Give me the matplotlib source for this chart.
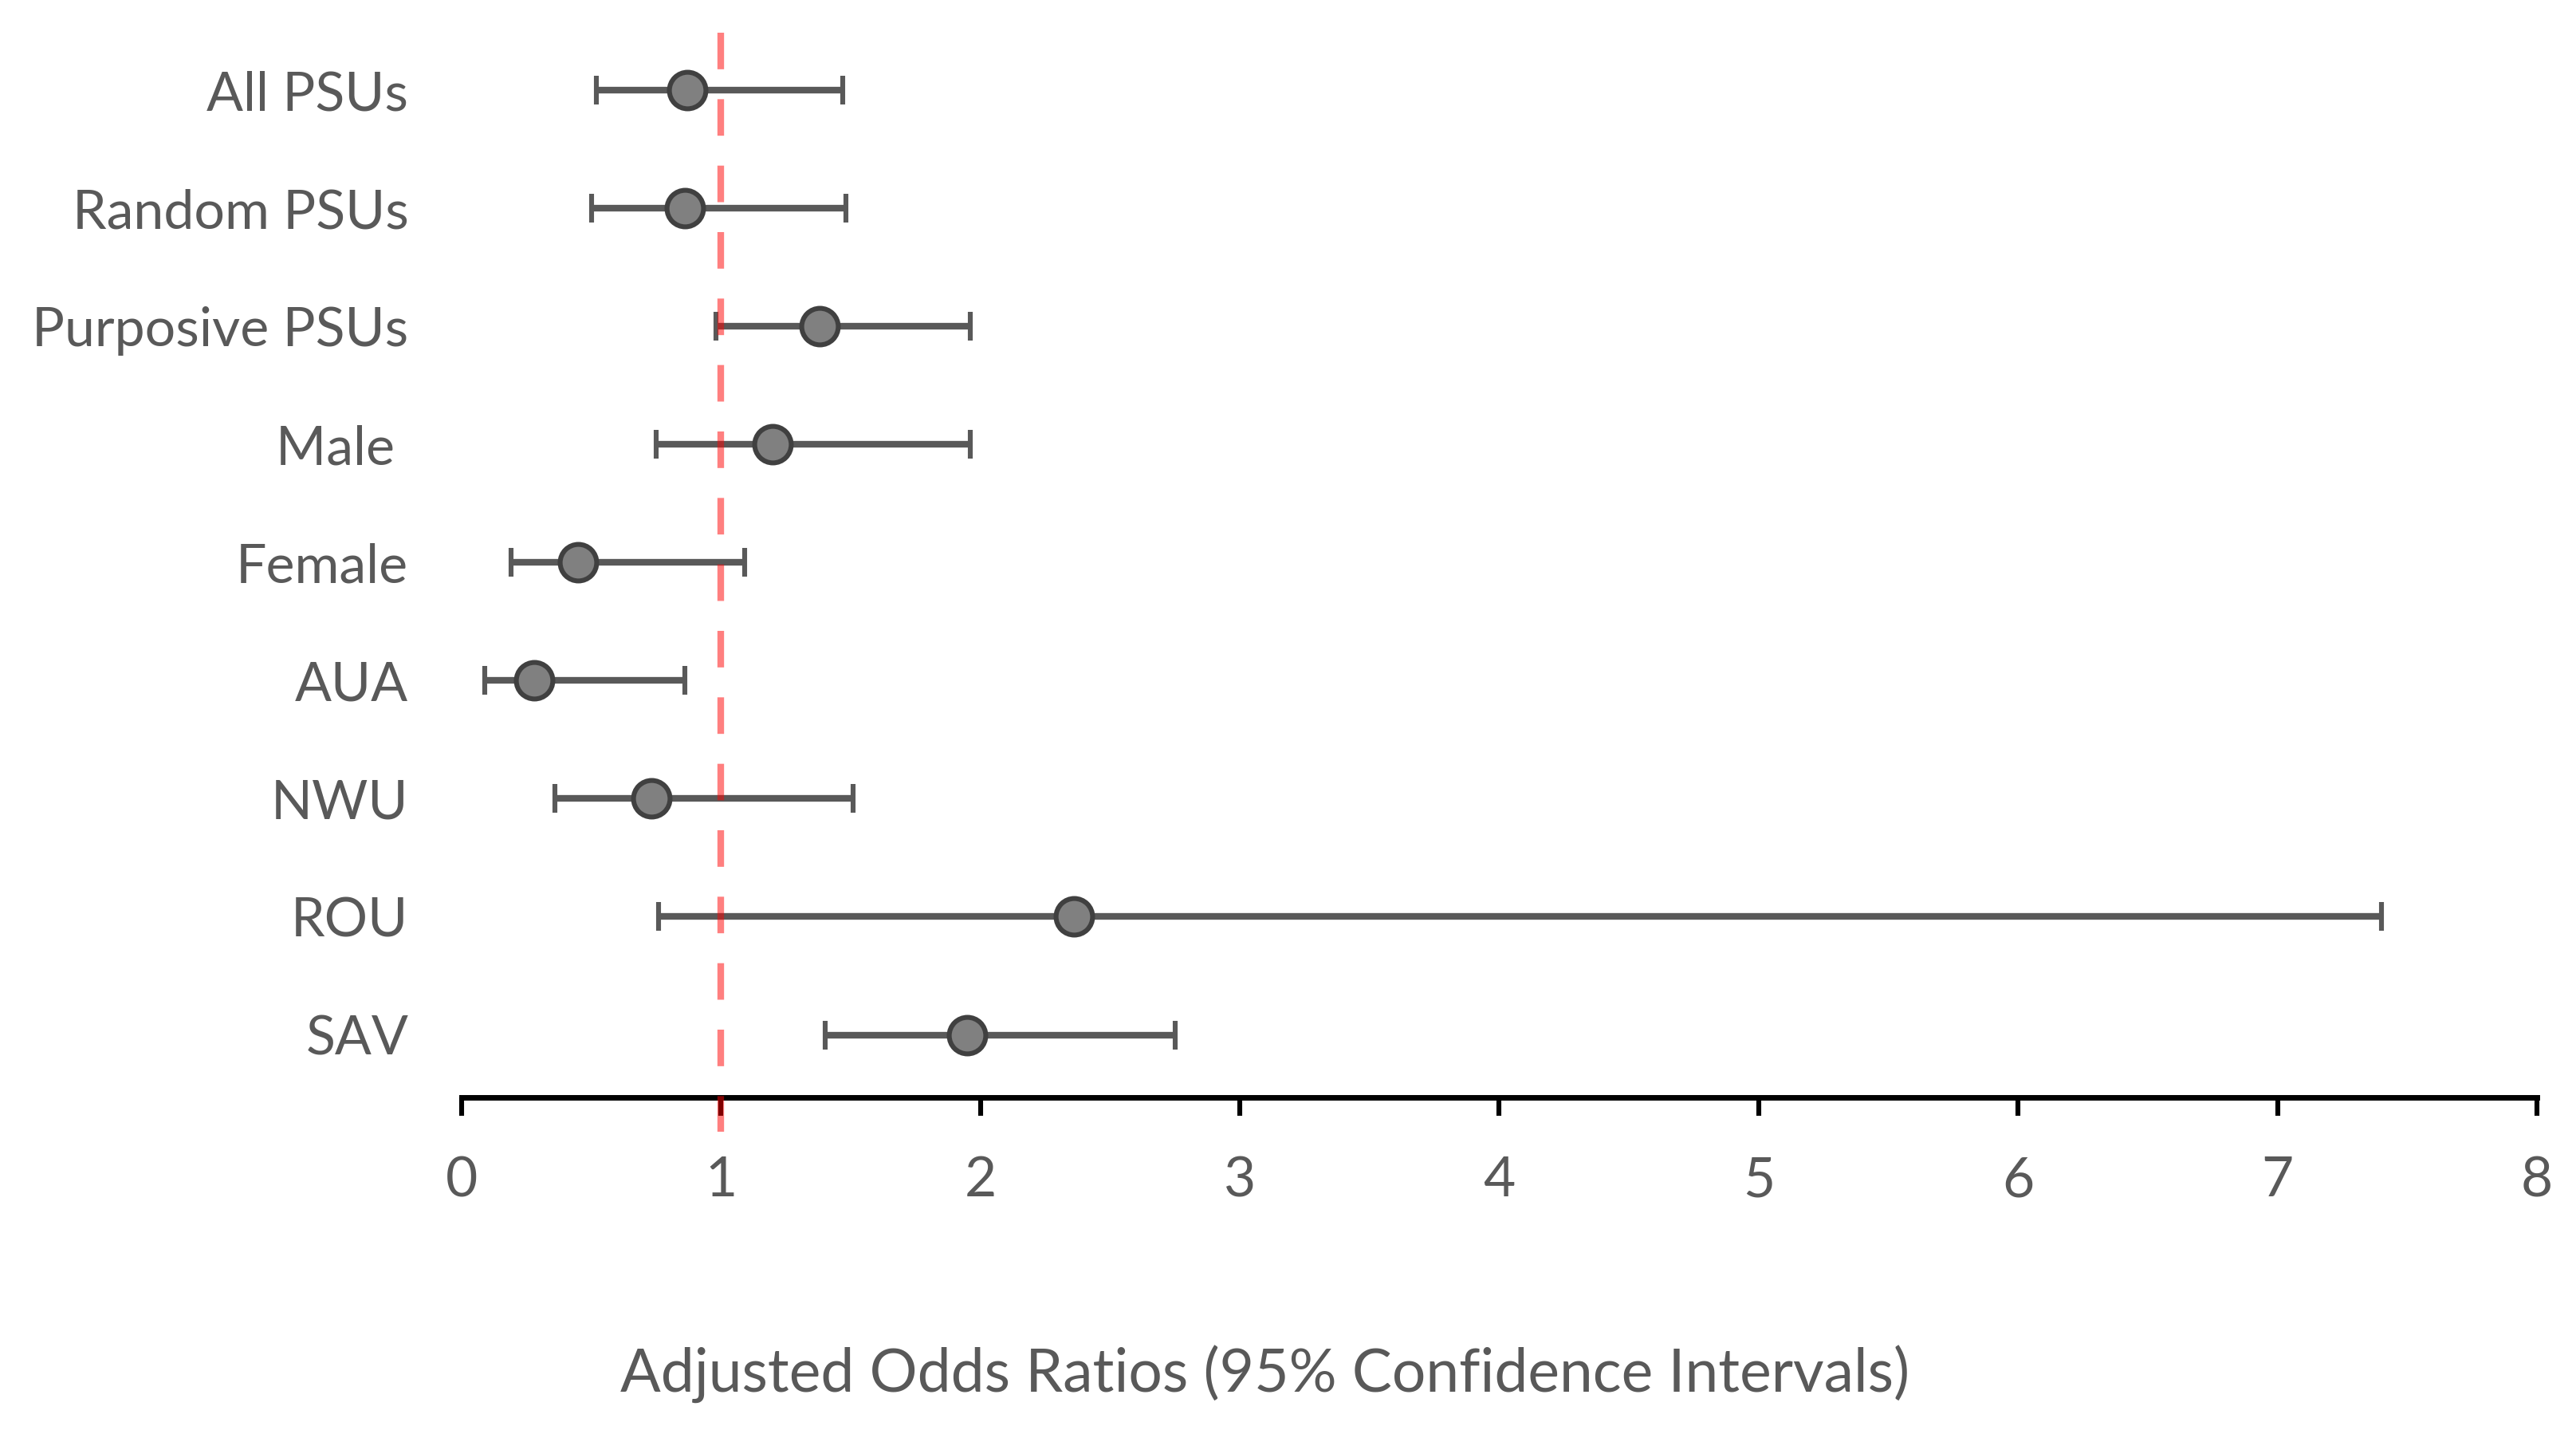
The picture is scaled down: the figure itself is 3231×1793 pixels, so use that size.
import matplotlib
matplotlib.use("Agg")
import matplotlib.pyplot as plt
import numpy as np

plt.rcParams["font.family"] = ["Lato", "DejaVu Sans"]

# adjusted odds ratios with 95% CI, top row first
labels = ["All PSUs", "Random PSUs", "Purposive PSUs", "Male ", "Female",
          "AUA", "NWU", "ROU", "SAV"]
aor = [0.87, 0.86, 1.38, 1.20, 0.45, 0.28, 0.73, 2.36, 1.95]
ci_low = [0.52, 0.50, 0.98, 0.75, 0.19, 0.09, 0.36, 0.76, 1.40]
ci_high = [1.47, 1.48, 1.96, 1.96, 1.09, 0.86, 1.51, 7.40, 2.75]
REF_OR = 1.0
xticks = [0, 1, 2, 3, 4, 5, 6, 7, 8]

TXT = "#595959"
BAR = "#595959"

fig = plt.figure(figsize=(16.155, 8.965), dpi=200)
ax = fig.add_axes([0.1792, 0.2326, 0.8056, 0.7454])

n = len(labels)
y = np.arange(n, 0, -1)
aor_a = np.array(aor)
err = [aor_a - np.array(ci_low), np.array(ci_high) - aor_a]

ax.errorbar(aor, y, xerr=err, fmt="o", color=BAR, ecolor=BAR, elinewidth=3.0,
            capsize=6.5, capthick=2.4, markersize=16.5, markerfacecolor="#808080",
            markeredgecolor="#404040", markeredgewidth=2.2, zorder=3)

# reference line at OR = 1, runs past the axis line like the original
ax.plot([REF_OR, REF_OR], [9.49, 0.18], color="red", alpha=0.5, lw=3.0,
        ls=(0, (5.5, 4.5)), clip_on=False, zorder=4)

ax.set_xlim(0, 8)
ax.set_ylim(0.47, 9.5)
ax.set_xticks(xticks)
ax.set_xticklabels([str(t) for t in xticks])
ax.set_yticks(y)
ax.set_yticklabels(labels)

for s in ("top", "right", "left"):
    ax.spines[s].set_visible(False)
ax.spines["bottom"].set_linewidth(2.5)
ax.spines["bottom"].set_color("black")
ax.tick_params(axis="x", direction="out", length=8.3, width=2.2, color="black",
               pad=18, labelsize=25, labelcolor=TXT)
ax.tick_params(axis="y", length=0, pad=24, labelsize=24.5, labelcolor=TXT)

fig.text(0.491, 0.039, "Adjusted Odds Ratios (95% Confidence Intervals)",
         ha="center", va="center", fontsize=27, color=TXT)

fig.savefig("out.png", dpi=200)
